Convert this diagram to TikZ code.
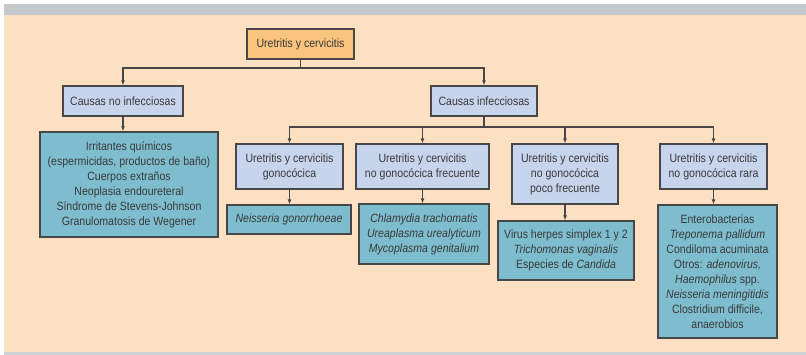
\documentclass[tikz,border=0pt]{standalone}
\usepackage{fontspec}
\setmainfont[FakeStretch=0.88]{Liberation Sans}
\usetikzlibrary{arrows.meta}
\definecolor{peach}{HTML}{FDDFC2}
\definecolor{bandgray}{HTML}{C5C9CB}
\definecolor{orangefill}{HTML}{F9C47E}
\definecolor{bluefill}{HTML}{C6D4EC}
\definecolor{tealfill}{HTML}{7EBDCE}
\definecolor{edgegray}{HTML}{474747}
\definecolor{textgray}{HTML}{3A3A3A}
\tikzset{
  basebox/.style={draw=edgegray, line width=1.2pt, inner sep=0pt, align=center,
    text=textgray, font=\fontsize{12}{15}\selectfont},
  orangebox/.style={basebox, fill=orangefill},
  bluebox/.style={basebox, fill=bluefill},
  tealbox/.style={basebox, fill=tealfill},
  plainline/.style={draw=edgegray, line width=1.2pt},
  conn/.style={plainline, -{Latex[length=5pt,width=4pt]}}
}
\begin{document}
\begin{tikzpicture}[x=1pt,y=-1pt]
\useasboundingbox (0,0) rectangle (806,355);
\fill[white] (0,0) rectangle (806,355);
\fill[bandgray] (4,4) rectangle (806,15);
\fill[peach] (4,15) rectangle (806,352);
\fill[bandgray!85!white] (4,352) rectangle (806,355);

\node[orangebox, minimum width=107, minimum height=30] (top) at (300.5,44) {Uretritis y cervicitis};
\node[bluebox, minimum width=120, minimum height=30] (cni) at (123,101) {Causas no infecciosas};
\node[bluebox, minimum width=106, minimum height=30] (ci) at (484,101) {Causas infecciosas};

\node[tealbox, minimum width=178, minimum height=105] (nonInf) at (129,184.5)
  {Irritantes químicos\\(espermicidas, productos de baño)\\Cuerpos extraños\\Neoplasia endoureteral\\Síndrome de Stevens-Johnson\\Granulomatosis de Wegener};

\node[bluebox, minimum width=107, minimum height=45] (g1) at (289.5,166.5) {Uretritis y cervicitis\\gonocócica};
\node[bluebox, minimum width=133, minimum height=45] (g2) at (422.5,166.5) {Uretritis y cervicitis\\no gonocócica frecuente};
\node[bluebox, minimum width=106, minimum height=60] (g3) at (565,174) {Uretritis y cervicitis\\no gonocócica\\poco frecuente};
\node[bluebox, minimum width=107, minimum height=45] (g4) at (713.5,166.5) {Uretritis y cervicitis\\no gonocócica rara};

\node[tealbox, minimum width=124, minimum height=29] (t1) at (289,219.5) {\itshape Neisseria gonorrhoeae};
\node[tealbox, minimum width=130, minimum height=60] (t2) at (424,234)
  {\itshape Chlamydia trachomatis\\\itshape Ureaplasma urealyticum\\\itshape Mycoplasma genitalium};
\node[tealbox, minimum width=136, minimum height=59] (t3) at (566,250.5)
  {Virus herpes simplex 1 y 2\\\textit{Trichomonas vaginalis}\\Especies de \textit{Candida}};
\node[tealbox, minimum width=119, minimum height=133] (t4) at (717.5,271.5)
  {Enterobacterias\\\textit{Treponema pallidum}\\Condiloma acuminata\\Otros: \textit{adenovirus,}\\\textit{Haemophilus} spp.\\\textit{Neisseria meningitidis}\\Clostridium difficile,\\anaerobios};

\coordinate (j1) at (0,68);
\coordinate (j2) at (0,127);

\draw[plainline] (top.south) -- (top.south |- j1);
\draw[conn] (top.south |- j1) -| (cni.north);
\draw[conn] (top.south |- j1) -| (ci.north);
\draw[conn] (cni.south) -- (cni.south |- nonInf.north);

\draw[plainline] (ci.south) -- (ci.south |- j2);
\draw[conn] (ci.south |- j2) -| (g1.north);
\draw[conn] (ci.south |- j2) -| (g2.north);
\draw[conn] (ci.south |- j2) -| (g3.north);
\draw[conn] (ci.south |- j2) -| (g4.north);

\draw[conn] (g1.south) -- (g1.south |- t1.north);
\draw[conn] (g2.south) -- (g2.south |- t2.north);
\draw[conn] (g3.south) -- (g3.south |- t3.north);
\draw[conn] (g4.south) -- (g4.south |- t4.north);
\end{tikzpicture}
\end{document}
